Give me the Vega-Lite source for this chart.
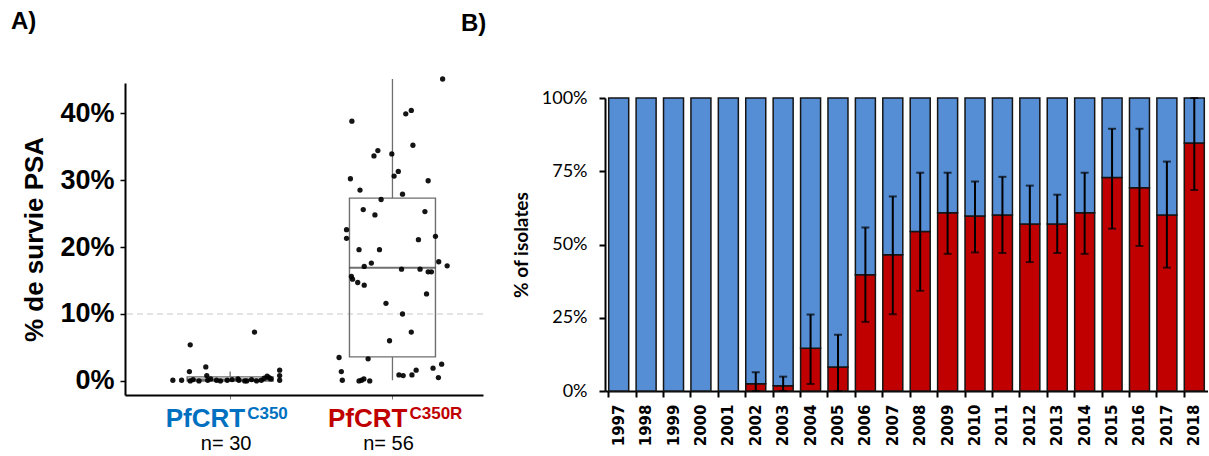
{
  "$schema": "https://vega.github.io/schema/vega-lite/v6.json",
  "padding": {"left": 11, "top": 10, "right": 0, "bottom": 0},
  "background": "white",
  "spacing": -23,
  "resolve": {"scale": {"color": "independent"}},
  "config": {"view": {"stroke": null}},
  "datasets": {
    "psa": [
      {"group": "C350", "jx": 0.647, "v": 0.1}, {"group": "C350", "jx": 0.701, "v": 0.1}, {"group": "C350", "jx": 0.749, "v": 1.4},
      {"group": "C350", "jx": 0.754, "v": 5.4}, {"group": "C350", "jx": 0.754, "v": 0.0}, {"group": "C350", "jx": 0.772, "v": 0.2},
      {"group": "C350", "jx": 0.85, "v": 2.1}, {"group": "C350", "jx": 0.856, "v": 0.8}, {"group": "C350", "jx": 0.862, "v": 0.1},
      {"group": "C350", "jx": 0.88, "v": 0.3}, {"group": "C350", "jx": 0.94, "v": 0.0}, {"group": "C350", "jx": 0.982, "v": 0.1},
      {"group": "C350", "jx": 1.048, "v": 0.3}, {"group": "C350", "jx": 1.054, "v": 0.1}, {"group": "C350", "jx": 1.09, "v": 0.0},
      {"group": "C350", "jx": 1.15, "v": 7.3}, {"group": "C350", "jx": 1.132, "v": 0.2}, {"group": "C350", "jx": 1.162, "v": 0.0},
      {"group": "C350", "jx": 1.192, "v": 0.1}, {"group": "C350", "jx": 1.21, "v": 0.4}, {"group": "C350", "jx": 1.228, "v": 0.7},
      {"group": "C350", "jx": 1.24, "v": 0.5}, {"group": "C350", "jx": 1.251, "v": 0.3}, {"group": "C350", "jx": 1.305, "v": 1.6},
      {"group": "C350", "jx": 1.305, "v": 0.8}, {"group": "C350", "jx": 1.305, "v": 0.1}, {"group": "C350", "jx": 0.808, "v": 0.0},
      {"group": "C350", "jx": 1.012, "v": 0.2}, {"group": "C350", "jx": 1.102, "v": 0.0}, {"group": "C350", "jx": 0.916, "v": 0.1},
      {"group": "C350R", "jx": 2.309, "v": 45.1}, {"group": "C350R", "jx": 1.75, "v": 38.8}, {"group": "C350R", "jx": 2.082, "v": 39.9},
      {"group": "C350R", "jx": 2.116, "v": 40.4}, {"group": "C350R", "jx": 2.126, "v": 35.2}, {"group": "C350R", "jx": 1.91, "v": 34.4},
      {"group": "C350R", "jx": 1.886, "v": 33.6}, {"group": "C350R", "jx": 1.996, "v": 33.9}, {"group": "C350R", "jx": 1.741, "v": 30.2},
      {"group": "C350R", "jx": 2.036, "v": 31.3}, {"group": "C350R", "jx": 2.01, "v": 30.6}, {"group": "C350R", "jx": 2.22, "v": 29.9},
      {"group": "C350R", "jx": 1.8, "v": 28.5}, {"group": "C350R", "jx": 2.062, "v": 27.9}, {"group": "C350R", "jx": 1.93, "v": 27.1},
      {"group": "C350R", "jx": 1.82, "v": 25.6}, {"group": "C350R", "jx": 1.892, "v": 24.8}, {"group": "C350R", "jx": 2.2, "v": 25.3},
      {"group": "C350R", "jx": 1.717, "v": 22.6}, {"group": "C350R", "jx": 1.717, "v": 21.3}, {"group": "C350R", "jx": 2.265, "v": 21.6},
      {"group": "C350R", "jx": 2.16, "v": 21.1}, {"group": "C350R", "jx": 1.794, "v": 19.6}, {"group": "C350R", "jx": 1.92, "v": 19.6},
      {"group": "C350R", "jx": 1.87, "v": 17.6}, {"group": "C350R", "jx": 1.826, "v": 17.1}, {"group": "C350R", "jx": 2.285, "v": 17.8},
      {"group": "C350R", "jx": 2.337, "v": 17.2}, {"group": "C350R", "jx": 2.056, "v": 16.7}, {"group": "C350R", "jx": 2.17, "v": 16.7},
      {"group": "C350R", "jx": 2.22, "v": 16.3}, {"group": "C350R", "jx": 2.24, "v": 16.3}, {"group": "C350R", "jx": 1.747, "v": 15.6},
      {"group": "C350R", "jx": 1.754, "v": 15.2}, {"group": "C350R", "jx": 1.786, "v": 14.7}, {"group": "C350R", "jx": 1.826, "v": 14.3},
      {"group": "C350R", "jx": 2.21, "v": 13.0}, {"group": "C350R", "jx": 1.96, "v": 11.6}, {"group": "C350R", "jx": 2.062, "v": 10.0},
      {"group": "C350R", "jx": 2.116, "v": 7.3}, {"group": "C350R", "jx": 1.982, "v": 6.0}, {"group": "C350R", "jx": 1.671, "v": 3.5},
      {"group": "C350R", "jx": 1.85, "v": 3.3}, {"group": "C350R", "jx": 1.685, "v": 1.4}, {"group": "C350R", "jx": 2.303, "v": 2.5},
      {"group": "C350R", "jx": 2.25, "v": 1.9}, {"group": "C350R", "jx": 2.146, "v": 1.6}, {"group": "C350R", "jx": 2.12, "v": 0.9},
      {"group": "C350R", "jx": 2.04, "v": 0.9}, {"group": "C350R", "jx": 2.066, "v": 0.8}, {"group": "C350R", "jx": 2.283, "v": 0.5},
      {"group": "C350R", "jx": 1.691, "v": 0.1}, {"group": "C350R", "jx": 1.794, "v": 0.0}, {"group": "C350R", "jx": 1.824, "v": 0.3},
      {"group": "C350R", "jx": 1.81, "v": 0.1}, {"group": "C350R", "jx": 1.86, "v": 0.0}
    ],
    "boxes": [
      {"group": "C350", "pos": 1, "lo": 0.0, "q1": 0.0, "med": 0.2, "q3": 0.6, "hi": 1.4, "n": "n= 30"},
      {"group": "C350R", "pos": 2, "lo": 0.1, "q1": 3.6, "med": 16.9, "q3": 27.3, "hi": 45.1, "n": "n= 56"}
    ],
    "isolates": [
      {"year": "1997", "genotype": "C350R", "pct": 0}, {"year": "1997", "genotype": "C350", "pct": 100},
      {"year": "1998", "genotype": "C350R", "pct": 0}, {"year": "1998", "genotype": "C350", "pct": 100},
      {"year": "1999", "genotype": "C350R", "pct": 0}, {"year": "1999", "genotype": "C350", "pct": 100},
      {"year": "2000", "genotype": "C350R", "pct": 0}, {"year": "2000", "genotype": "C350", "pct": 100},
      {"year": "2001", "genotype": "C350R", "pct": 0}, {"year": "2001", "genotype": "C350", "pct": 100},
      {"year": "2002", "genotype": "C350R", "pct": 2.5}, {"year": "2002", "genotype": "C350", "pct": 97.5},
      {"year": "2003", "genotype": "C350R", "pct": 1.8}, {"year": "2003", "genotype": "C350", "pct": 98.2},
      {"year": "2004", "genotype": "C350R", "pct": 14.6}, {"year": "2004", "genotype": "C350", "pct": 85.4},
      {"year": "2005", "genotype": "C350R", "pct": 8.2}, {"year": "2005", "genotype": "C350", "pct": 91.8},
      {"year": "2006", "genotype": "C350R", "pct": 39.7}, {"year": "2006", "genotype": "C350", "pct": 60.3},
      {"year": "2007", "genotype": "C350R", "pct": 46.5}, {"year": "2007", "genotype": "C350", "pct": 53.5},
      {"year": "2008", "genotype": "C350R", "pct": 54.4}, {"year": "2008", "genotype": "C350", "pct": 45.6},
      {"year": "2009", "genotype": "C350R", "pct": 60.8}, {"year": "2009", "genotype": "C350", "pct": 39.2},
      {"year": "2010", "genotype": "C350R", "pct": 59.7}, {"year": "2010", "genotype": "C350", "pct": 40.3},
      {"year": "2011", "genotype": "C350R", "pct": 60.1}, {"year": "2011", "genotype": "C350", "pct": 39.9},
      {"year": "2012", "genotype": "C350R", "pct": 57.0}, {"year": "2012", "genotype": "C350", "pct": 43.0},
      {"year": "2013", "genotype": "C350R", "pct": 57.0}, {"year": "2013", "genotype": "C350", "pct": 43.0},
      {"year": "2014", "genotype": "C350R", "pct": 60.8}, {"year": "2014", "genotype": "C350", "pct": 39.2},
      {"year": "2015", "genotype": "C350R", "pct": 72.9}, {"year": "2015", "genotype": "C350", "pct": 27.1},
      {"year": "2016", "genotype": "C350R", "pct": 69.4}, {"year": "2016", "genotype": "C350", "pct": 30.6},
      {"year": "2017", "genotype": "C350R", "pct": 60.1}, {"year": "2017", "genotype": "C350", "pct": 39.9},
      {"year": "2018", "genotype": "C350R", "pct": 84.6}, {"year": "2018", "genotype": "C350", "pct": 15.4}
    ],
    "errors": [
      {"year": "2002", "lo": 0, "hi": 6.4}, {"year": "2003", "lo": 0, "hi": 4.9},
      {"year": "2004", "lo": 2.4, "hi": 26.1}, {"year": "2005", "lo": 0, "hi": 19.2},
      {"year": "2006", "lo": 23.6, "hi": 55.8}, {"year": "2007", "lo": 26.2, "hi": 66.4},
      {"year": "2008", "lo": 34.2, "hi": 74.5}, {"year": "2009", "lo": 46.8, "hi": 74.5},
      {"year": "2010", "lo": 47.3, "hi": 71.5}, {"year": "2011", "lo": 47.1, "hi": 73.1},
      {"year": "2012", "lo": 44.0, "hi": 70.1}, {"year": "2013", "lo": 47.1, "hi": 67.0},
      {"year": "2014", "lo": 46.8, "hi": 74.5}, {"year": "2015", "lo": 55.4, "hi": 89.5},
      {"year": "2016", "lo": 49.5, "hi": 89.5}, {"year": "2017", "lo": 42.1, "hi": 78.3},
      {"year": "2018", "lo": 68.6, "hi": 100}
    ],
    "ref": [{"threshold": 10}]
  },
  "hconcat": [
    {
      "width": 358,
      "height": 312,
      "title": {"text": "A)", "anchor": "start", "frame": "group", "dx": -114, "offset": 42, "font": "Liberation Sans", "fontSize": 24, "fontWeight": "bold", "color": "black"},
      "layer": [
        {
          "data": {"name": "ref"},
          "mark": {"type": "rule", "color": "#c8c8c8", "strokeDash": [6, 4], "strokeWidth": 1},
          "encoding": {"y": {"field": "threshold", "type": "quantitative"}}
        },
        {
          "data": {"name": "boxes"},
          "mark": {"type": "rule", "color": "#6e6e6e", "strokeWidth": 1.3},
          "encoding": {"x": {"field": "pos", "type": "quantitative"}, "y": {"field": "lo", "type": "quantitative"}, "y2": {"field": "q1"}}
        },
        {
          "data": {"name": "boxes"},
          "mark": {"type": "rule", "color": "#6e6e6e", "strokeWidth": 1.3},
          "encoding": {"x": {"field": "pos", "type": "quantitative"}, "y": {"field": "q3", "type": "quantitative"}, "y2": {"field": "hi"}}
        },
        {
          "data": {"name": "boxes"},
          "mark": {"type": "bar", "orient": "vertical", "width": 86, "fill": "#888888", "fillOpacity": 0, "stroke": "#6e6e6e", "strokeWidth": 1.4},
          "encoding": {"x": {"field": "pos", "type": "quantitative"}, "y": {"field": "q1", "type": "quantitative"}, "y2": {"field": "q3"}}
        },
        {
          "data": {"name": "boxes"},
          "mark": {"type": "tick", "orient": "horizontal", "size": 86, "thickness": 2, "color": "#333333"},
          "encoding": {"x": {"field": "pos", "type": "quantitative"}, "y": {"field": "med", "type": "quantitative"}}
        },
        {
          "data": {"name": "psa"},
          "mark": {"type": "circle", "size": 28, "color": "black", "opacity": 0.92},
          "encoding": {
            "x": {"field": "jx", "type": "quantitative", "scale": {"domain": [0.383, 2.527], "nice": false, "zero": false},
                  "axis": {"values": [1, 2], "labels": false, "title": null, "grid": false, "domainColor": "black", "domainWidth": 2, "tickColor": "#777777", "tickSize": 4, "tickWidth": 1}},
            "y": {"field": "v", "type": "quantitative", "scale": {"domain": [-2.1, 44.5], "nice": false, "zero": false},
                  "axis": {"title": "% de survie PSA", "values": [0, 10, 20, 30, 40], "labelExpr": "datum.value + '%'", "grid": false,
                           "labelFont": "Liberation Sans", "labelFontSize": 27, "labelFontWeight": "bold", "labelColor": "black", "labelPadding": 6,
                           "titleFont": "Liberation Sans", "titleFontSize": 26, "titleFontWeight": "bold", "titleColor": "black", "titlePadding": 12,
                           "domainColor": "black", "domainWidth": 2, "tickColor": "black", "tickWidth": 1.5, "tickSize": 5}}
          }
        },
        {
          "data": {"name": "boxes"},
          "mark": {"type": "text", "align": "right", "baseline": "alphabetic", "dx": 15, "font": "Liberation Sans", "fontSize": 26, "fontWeight": "bold", "text": "PfCRT"},
          "encoding": {"x": {"field": "pos", "type": "quantitative"}, "y": {"datum": -6.9, "type": "quantitative"},
                       "color": {"field": "group", "type": "nominal", "scale": {"domain": ["C350", "C350R"], "range": ["#0070C0", "#C00000"]}, "legend": null}}
        },
        {
          "data": {"name": "boxes"},
          "mark": {"type": "text", "align": "left", "baseline": "alphabetic", "dx": 17, "font": "Liberation Sans", "fontSize": 17, "fontWeight": "bold"},
          "encoding": {"x": {"field": "pos", "type": "quantitative"}, "y": {"datum": -5.7, "type": "quantitative"}, "text": {"field": "group"},
                       "color": {"field": "group", "type": "nominal", "legend": null}}
        },
        {
          "data": {"name": "boxes"},
          "mark": {"type": "text", "align": "center", "baseline": "alphabetic", "dx": -4, "font": "Liberation Sans", "fontSize": 20, "color": "black"},
          "encoding": {"x": {"field": "pos", "type": "quantitative"}, "y": {"datum": -10.3, "type": "quantitative"}, "text": {"field": "n"}}
        }
      ]
    },
    {
      "width": 603,
      "height": 308,
      "title": {"text": "B)", "anchor": "start", "frame": "group", "dx": -144, "offset": 47, "font": "Liberation Sans", "fontSize": 24, "fontWeight": "bold", "color": "black"},
      "layer": [
        {
          "data": {"name": "isolates"},
          "mark": {"type": "bar", "stroke": "#151515", "strokeWidth": 1.5},
          "encoding": {
            "x": {"field": "year", "type": "ordinal", "scale": {"paddingInner": 0.27, "paddingOuter": 0.135},
                  "axis": {"title": null, "labelAngle": -90, "labelFont": "DejaVu Sans", "labelFontSize": 15, "labelFontWeight": "bold", "labelColor": "black", "labelPadding": 7,
                           "bandPosition": 0, "domainColor": "black", "domainWidth": 2, "tickColor": "black", "tickWidth": 2, "tickSize": 6, "grid": false}},
            "y": {"field": "pct", "type": "quantitative", "stack": "zero", "scale": {"domain": [0, 100], "nice": false, "range": [308, 15]},
                  "axis": {"title": "% of isolates", "values": [0, 25, 50, 75, 100], "labelExpr": "datum.value + '%'", "grid": false,
                           "labelFont": "Lato", "labelFontSize": 18, "labelColor": "black", "labelPadding": 12,
                           "titleFont": "Lato", "titleFontSize": 19, "titleFontWeight": "bold", "titleColor": "black", "titlePadding": 10,
                           "domainColor": "black", "domainWidth": 2, "tickColor": "black", "tickWidth": 2, "tickSize": 6}},
            "color": {"field": "genotype", "type": "nominal", "scale": {"domain": ["C350", "C350R"], "range": ["#558ED5", "#C00000"]}, "legend": null},
            "order": {"field": "genotype", "sort": "descending"}
          }
        },
        {
          "data": {"name": "errors"},
          "mark": {"type": "rule", "color": "black", "strokeWidth": 2},
          "encoding": {"x": {"field": "year", "type": "ordinal"}, "y": {"field": "lo", "type": "quantitative"}, "y2": {"field": "hi"}}
        },
        {
          "data": {"name": "errors"},
          "mark": {"type": "tick", "orient": "horizontal", "size": 8, "thickness": 2, "color": "black"},
          "encoding": {"x": {"field": "year", "type": "ordinal"}, "y": {"field": "hi", "type": "quantitative"}}
        },
        {
          "data": {"name": "errors"},
          "mark": {"type": "tick", "orient": "horizontal", "size": 8, "thickness": 2, "color": "black"},
          "encoding": {"x": {"field": "year", "type": "ordinal"}, "y": {"field": "lo", "type": "quantitative"}}
        }
      ]
    }
  ]
}
